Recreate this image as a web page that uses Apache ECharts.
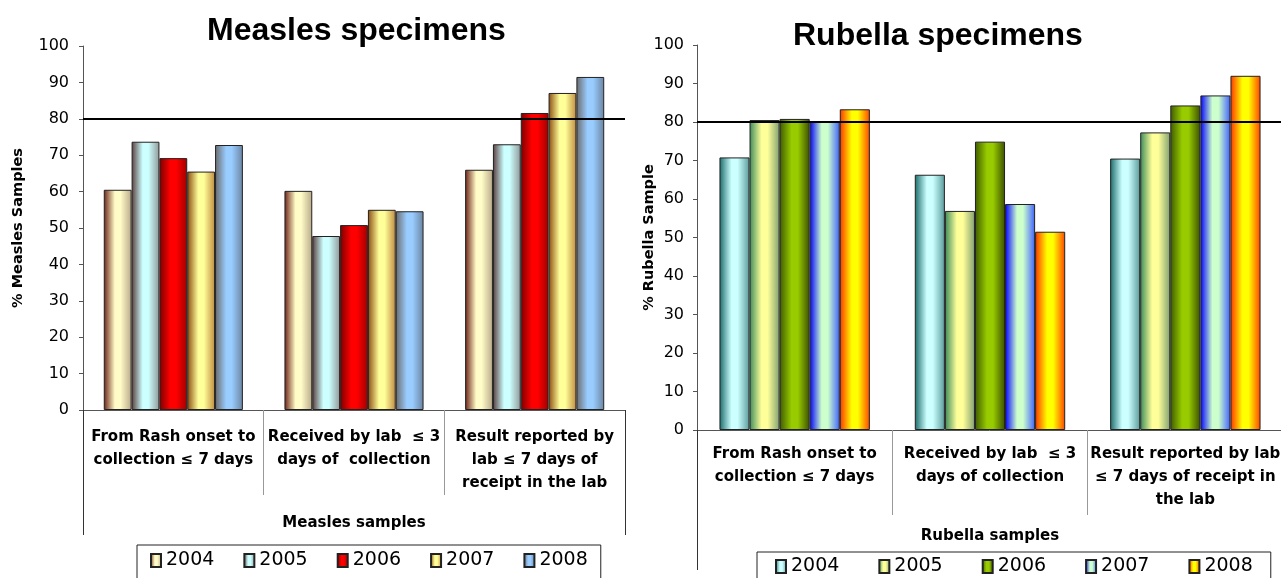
<!DOCTYPE html>
<html lang="en">
<head>
    <meta charset="UTF-8">
    <title>Measles / Rubella specimens</title>
    <script src="https://cdn.jsdelivr.net/npm/echarts@6/dist/echarts.min.js"></script>
    <style>
        html, body { margin: 0; padding: 0; background: #fff; }
        #left, #right { position: absolute; top: 0; height: 578px; }
        #left { left: 0; width: 640px; }
        /* overlaps the left one a little so the rotated axis name has room */
        #right { left: 620px; width: 661px; }
    </style>
</head>
<body>
<div id="left"></div>
<div id="right"></div>
<script>
    var years = ['2004', '2005', '2006', '2007', '2008'];
    var yTicks = [0, 100, 10]; // min, max, interval

    var measlesCats = [
        'From Rash onset to\ncollection ≤ 7 days',
        'Received by lab  ≤ 3\ndays of  collection',
        'Result reported by\nlab ≤ 7 days of\nreceipt in the lab'
    ];
    var measles2004 = [60.5, 60.2, 66.0];
    var measles2005 = [73.7, 47.8, 73.0];
    var measles2006 = [69.2, 50.8, 81.6];
    var measles2007 = [65.5, 55.0, 87.1];
    var measles2008 = [72.8, 54.6, 91.5];

    var rubellaCats = [
        'From Rash onset to\ncollection ≤ 7 days',
        'Received by lab  ≤ 3\ndays of collection',
        'Result reported by lab\n≤ 7 days of receipt in\nthe lab'
    ];
    var rubella2004 = [70.8, 66.3, 70.5];
    var rubella2005 = [80.5, 56.9, 77.3];
    var rubella2006 = [80.8, 74.9, 84.3];
    var rubella2007 = [80.2, 58.7, 86.9];
    var rubella2008 = [83.3, 51.5, 92.0];

    var target = 80;

    var FONT = '"DejaVu Sans", sans-serif';
    var TITLE_FONT = '"Liberation Sans", Arial, sans-serif';

    // horizontal "cylinder" shading like the old office charts
    function grad(c0, c1, c2) {
        return new echarts.graphic.LinearGradient(0, 0, 1, 0, [
            { offset: 0, color: c0 },
            { offset: 0.4, color: c1 },
            { offset: 0.6, color: c1 },
            { offset: 1, color: c2 }
        ]);
    }

    var measlesColors = [
        grad('#6b2016', '#fffcc8', '#b8a888'),
        grad('#5a3c3c', '#ccffff', '#909898'),
        grad('#7a0000', '#ff0000', '#a00000'),
        grad('#8a4a10', '#ffff99', '#c08a40'),
        grad('#6a6a6a', '#99ccff', '#6a84a0')
    ];
    var rubellaColors = [
        grad('#1a6a6a', '#ccffff', '#5a9a9a'),
        grad('#3a8a5a', '#ffff99', '#80a070'),
        grad('#3e5a00', '#99cc00', '#3a5000'),
        grad('#0000ff', '#ccffcc', '#4060ff'),
        grad('#ff3300', '#ffff00', '#ff4400')
    ];

    function buildOption(cfg) {
        var series = cfg.values.map(function (vals, i) {
            var s = {
                name: years[i],
                type: 'bar',
                barGap: 0,
                barCategoryGap: '23%',
                data: vals,
                itemStyle: { color: cfg.colors[i], borderColor: '#222', borderWidth: 1 }
            };
            if (i === 0) {
                s.markLine = {
                    silent: true,
                    symbol: 'none',
                    label: { show: false },
                    lineStyle: { color: '#000', width: 2, type: 'solid' },
                    data: [{ yAxis: target }]
                };
            }
            return s;
        });

        var grid = cfg.grid;
        grid.outerBoundsMode = 'none';
        grid.containLabel = false;

        return {
            animation: false,
            textStyle: { fontFamily: FONT },
            title: {
                text: cfg.title,
                left: cfg.titleLeft,
                top: cfg.titleTop,
                textStyle: { fontSize: 32, fontWeight: 'bold', color: '#000', fontFamily: TITLE_FONT }
            },
            grid: grid,
            legend: {
                data: years,
                icon: 'rect',
                left: cfg.legendLeft,
                top: cfg.legendTop,
                padding: cfg.legendPadding,
                itemGap: cfg.legendGap,
                itemWidth: 10,
                itemHeight: 13,
                borderColor: '#222',
                borderWidth: 1,
                textStyle: { fontSize: 19, color: '#000', fontFamily: FONT }
            },
            xAxis: [{
                type: 'category',
                data: cfg.cats,
                axisLine: { show: true, lineStyle: { color: '#555' } },
                axisTick: { show: true, alignWithLabel: false, length: cfg.sepLen, lineStyle: { color: '#999' } },
                axisLabel: {
                    interval: 0,
                    margin: cfg.labelMargin,
                    fontSize: 15,
                    fontWeight: 'bold',
                    lineHeight: 23,
                    color: '#000'
                }
            }, {
                type: 'category',
                position: 'bottom',
                data: [cfg.xName],
                axisLine: { show: false },
                axisTick: { show: true, length: cfg.outerLen, lineStyle: { color: '#333' } },
                axisLabel: {
                    margin: cfg.nameMargin,
                    fontSize: 15,
                    fontWeight: 'bold',
                    color: '#000'
                }
            }],
            yAxis: {
                type: 'value',
                min: yTicks[0],
                max: yTicks[1],
                interval: yTicks[2],
                name: cfg.yName,
                nameLocation: 'middle',
                nameGap: cfg.yNameGap,
                nameMoveOverlap: false,
                nameTextStyle: { fontSize: 14.5, fontWeight: 'bold', color: '#000' },
                axisLine: { show: true, lineStyle: { color: '#555' } },
                axisTick: { show: true, length: 4, lineStyle: { color: '#555' } },
                splitLine: { show: false },
                axisLabel: { fontSize: 16, color: '#000', margin: cfg.yLabelMargin }
            },
            series: series
        };
    }

    var left = echarts.init(document.getElementById('left'));
    left.setOption(buildOption({
        title: 'Measles specimens',
        titleLeft: 202,
        titleTop: 10,
        grid: { left: 83, top: 46, width: 542, height: 364 },
        cats: measlesCats,
        xName: 'Measles samples',
        yName: '% Measles Samples',
        yNameGap: 57,
        yLabelMargin: 14,
        values: [measles2004, measles2005, measles2006, measles2007, measles2008],
        colors: measlesColors,
        labelMargin: 16,
        sepLen: 85,
        outerLen: 125,
        nameMargin: 106,
        legendLeft: 137,
        legendTop: 545,
        legendPadding: [6, 13, 12, 13],
        legendGap: 29
    }));

    var right = echarts.init(document.getElementById('right'));
    right.setOption(buildOption({
        title: 'Rubella specimens',
        titleLeft: 168,
        titleTop: 15,
        grid: { left: 77, top: 45, width: 586, height: 385 },
        cats: rubellaCats,
        xName: 'Rubella samples',
        yName: '% Rubella Sample',
        yNameGap: 40,
        yLabelMargin: 13,
        values: [rubella2004, rubella2005, rubella2006, rubella2007, rubella2008],
        colors: rubellaColors,
        labelMargin: 13,
        sepLen: 85,
        outerLen: 140,
        nameMargin: 99,
        legendLeft: 137,
        legendTop: 552,
        legendPadding: [5, 18, 12, 18],
        legendGap: 39
    }));
</script>
</body>
</html>
